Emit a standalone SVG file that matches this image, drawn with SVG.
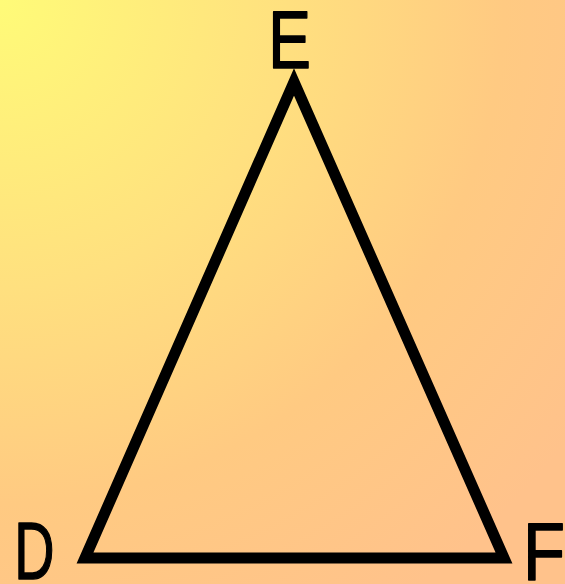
<svg xmlns="http://www.w3.org/2000/svg" width="565" height="584" viewBox="0 0 565 584">
  <defs>
    <radialGradient id="bg" gradientUnits="userSpaceOnUse" cx="0" cy="0" r="720">
      <stop offset="0" stop-color="#FFFB78"/>
      <stop offset="0.4" stop-color="#FFE07F"/>
      <stop offset="0.7" stop-color="#FFCA82"/>
      <stop offset="1" stop-color="#FFC28B"/>
    </radialGradient>
  </defs>
  <style>
    .lbl { font-family: "Liberation Sans", Arial, sans-serif; font-size: 82px; fill: #000; stroke: #000; stroke-width: 1.5; stroke-linejoin: round; text-anchor: middle; }
    .tri { fill: none; stroke: #000; stroke-width: 11; stroke-linejoin: miter; stroke-miterlimit: 10; }
  </style>
  <rect width="565" height="584" fill="url(#bg)"/>
  <g id="triangle">
    <path class="tri" d="M85,558 L294,82 L504,558 Z"/>
  </g>
  <g id="label-E"><text class="lbl" transform="translate(289.5,68) scale(0.78,1)">E</text></g>
  <g id="label-D"><text class="lbl" transform="translate(34.5,579) scale(0.68,1)">D</text></g>
  <g id="label-F"><text class="lbl" transform="translate(544,580) scale(0.84,1)">F</text></g>
</svg>
